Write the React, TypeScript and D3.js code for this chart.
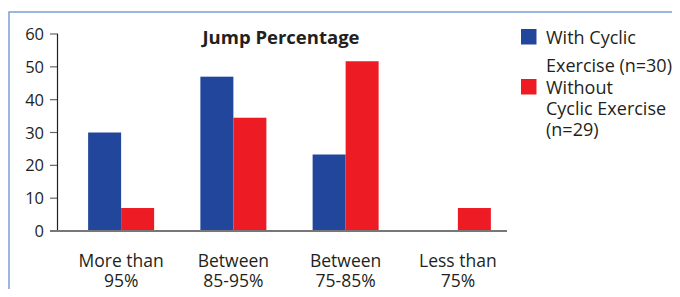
import React, { useEffect, useRef } from "react";
import * as d3 from "d3";

const categories = ["More than|95%", "Between|85-95%", "Between|75-85%", "Less than|75%"];
const withCyclic = [30, 47, 23.3, 0];
const withoutCyclic = [7, 34.5, 51.7, 7];
const seriesNames = ["With Cyclic|Exercise (n=30)", "Without|Cyclic Exercise|(n=29)"];
const seriesColors = ["#22469b", "#ed1c24"];
const yTicks = [0, 10, 20, 30, 40, 50, 60];

const App = () => {
  const ref = useRef<SVGSVGElement>(null);

  useEffect(() => {
    const width = 680,
      height = 297,
      font = "'Open Sans', 'Noto Sans', sans-serif";

    const svg = d3.select(ref.current);
    svg.selectAll("*").remove();

    // frame
    svg
      .append("path")
      .attr("d", `M9,${height} L9,12 L${width},12`)
      .attr("fill", "none")
      .attr("stroke", "#7f9dd5")
      .attr("stroke-width", 1.5);

    var x = d3.scaleBand().domain(categories).range([65, 514]);
    var y = d3.scaleLinear().domain([0, 60]).range([231, 34]);
    var barW = 33;

    // y ticks
    const yg = svg.append("g");
    yg.selectAll("line.tick")
      .data(yTicks.filter(d => d > 0))
      .enter()
      .append("line")
      .attr("x1", 50)
      .attr("x2", 58)
      .attr("y1", d => y(d))
      .attr("y2", d => y(d))
      .attr("stroke", "#666")
      .attr("stroke-width", 1.2);
    yg.selectAll("text")
      .data(yTicks)
      .enter()
      .append("text")
      .attr("x", 44)
      .attr("y", d => y(d) + 6)
      .attr("text-anchor", "end")
      .attr("font-family", font)
      .attr("font-size", 16.5)
      .attr("fill", "#231f20")
      .text(d => d);

    // bars
    const groups = svg
      .selectAll("g.grp")
      .data(categories)
      .enter()
      .append("g")
      .attr("class", "grp");
    [withCyclic, withoutCyclic].forEach((vals, si) => {
      groups
        .append("rect")
        .attr("x", d => x(d)! + x.bandwidth() / 2 - barW + si * barW)
        .attr("width", barW)
        .attr("y", (d, i) => y(vals[i]))
        .attr("height", (d, i) => y(0) - y(vals[i]))
        .attr("fill", seriesColors[si]);
    });

    // axes lines
    svg
      .append("line")
      .attr("x1", 57.5)
      .attr("x2", 57.5)
      .attr("y1", y(60))
      .attr("y2", y(0))
      .attr("stroke", "#231f20")
      .attr("stroke-width", 1.2);
    svg
      .append("line")
      .attr("x1", 50)
      .attr("x2", 507)
      .attr("y1", y(0))
      .attr("y2", y(0))
      .attr("stroke", "#777")
      .attr("stroke-width", 2);

    // x labels
    groups
      .append("text")
      .attr("text-anchor", "middle")
      .attr("font-family", font)
      .attr("font-size", 17.5)
      .attr("fill", "#231f20")
      .each(function (d) {
        const t = d3.select(this);
        d.split("|").forEach((s, k) => {
          t.append("tspan")
            .attr("x", x(d)! + x.bandwidth() / 2)
            .attr("y", 267 + k * 20)
            .text(s);
        });
      });

    // title
    svg
      .append("text")
      .attr("x", 281)
      .attr("y", 44)
      .attr("text-anchor", "middle")
      .attr("font-family", font)
      .attr("font-weight", "bold")
      .attr("font-size", 18.5)
      .attr("fill", "#231f20")
      .text("Jump Percentage");

    // legend
    const legendY = [29, 79];
    const lineYs = [[44, 72], [94, 115, 136]];
    seriesNames.forEach((name, si) => {
      svg
        .append("rect")
        .attr("x", 521)
        .attr("y", legendY[si])
        .attr("width", 15.5)
        .attr("height", 15.5)
        .attr("fill", seriesColors[si]);
      const t = svg
        .append("text")
        .attr("font-family", font)
        .attr("font-size", 18)
        .attr("fill", "#231f20");
      name.split("|").forEach((s, k) => {
        t.append("tspan").attr("x", 546).attr("y", lineYs[si][k]).text(s);
      });
    });
  }, []);

  return (
    <div style={{ margin: -8 }}>
      <svg ref={ref} width={680} height={297} style={{ display: "block" }}></svg>
    </div>
  );
};

export default App;
